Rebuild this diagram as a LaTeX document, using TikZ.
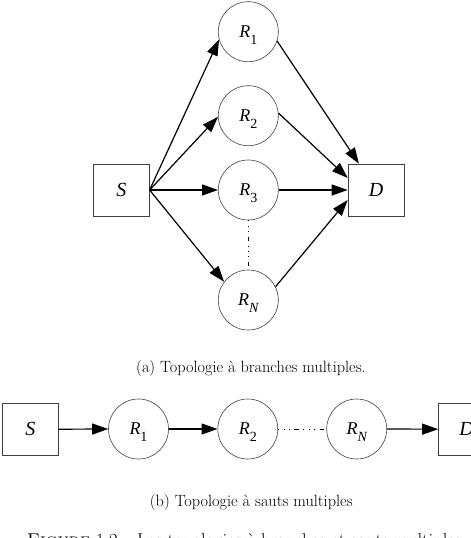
\documentclass[tikz,border=0pt]{standalone}
\usepackage{fontspec}
\newfontfamily\tms{Liberation Serif}
\usetikzlibrary{arrows.meta}
\newcommand{\rlab}[2]{{\tms\fontsize{18}{18}\selectfont\itshape R}\raisebox{-6.5pt}{\tms\fontsize{14}{14}\selectfont #2}}
\newcommand{\tlab}[1]{{\tms\fontsize{20}{20}\selectfont\itshape #1}}
\begin{document}
\begin{tikzpicture}[x=1pt,y=-1pt,
  relay/.style={circle,draw=black!75,line width=0.6pt,minimum size=60pt,inner sep=0pt,text depth=0pt},
  term/.style={draw=black!75,line width=0.6pt,minimum width=56pt,minimum height=52pt,inner sep=0pt},
  conn/.style={line width=1.2pt,-{Triangle[length=16pt,width=11pt]}},
  dots/.style={line width=0.8pt,dash pattern=on 0.9pt off 4.5pt on 0.9pt off 4.5pt on 0.9pt off 4.5pt on 4.5pt off 4.5pt},
  captext/.style={font=\fontsize{16.3}{18}\selectfont,inner sep=0pt},
  figcap/.style={font=\fontsize{18.5}{21}\selectfont,inner sep=0pt}]
\useasboundingbox (0,0) rectangle (471,538);
\clip (0,0) rectangle (471,538);
% (a) multi-branch topology
\node[term] (S) at (121.3,190) {\tlab{S}};
\node[term] (D) at (376,190) {\tlab{D}};
\node[relay] (R1) at (248.3,31.7) {\rlab{R}{1}};
\node[relay] (R2) at (248.3,115.7) {\rlab{R}{2}};
\node[relay] (R3) at (248.3,190) {\rlab{R}{3}};
\node[relay] (RN) at (248.3,300) {\rlab{R}{\itshape N}};
\draw[conn] (S.east) -- (R1.195);
\draw[conn] (S.east) -- (R2.182);
\draw[conn] (S.east) -- (R3.west);
\draw[conn] (S.east) -- (RN.143);
\draw[conn] (R1.-18) -- ([xshift=-17pt]D.north);
\draw[conn] (R2.5) -- ([yshift=12pt]D.west);
\draw[conn] (R3.east) -- (D.west);
\draw[conn] (RN.26.5) -- ([yshift=-10pt]D.west);
\draw[dots] (R3.south) -- (RN.north);
\node[captext] (capa) at (251,368) {(a) Topologie à branches multiples.};
% (b) multi-hop topology
\node[term] (S2) at (30.3,429.2) {\tlab{S}};
\node[relay] (B1) at (138.5,429) {\rlab{R}{1}};
\node[relay] (B2) at (247.8,429) {\rlab{R}{2}};
\node[relay] (BN) at (356.7,429) {\rlab{R}{\itshape N}};
\node[term] (D2) at (466.5,429.2) {\tlab{D}};
\draw[conn] (S2.east) -- (B1.west);
\draw[conn] (B1.east) -- (B2.west);
\draw[dots] (B2.east) -- (BN.west);
\draw[conn] (BN.east) -- (D2.west);
\node[captext] (capb) at (251.3,502.3) {(b) Topologie à sauts multiples};
\node[figcap,anchor=base west] (capf) at (26.7,546) {\textsc{Figure} 1.2 -- Les topologies à branches et sauts multiples};
\end{tikzpicture}
\end{document}
